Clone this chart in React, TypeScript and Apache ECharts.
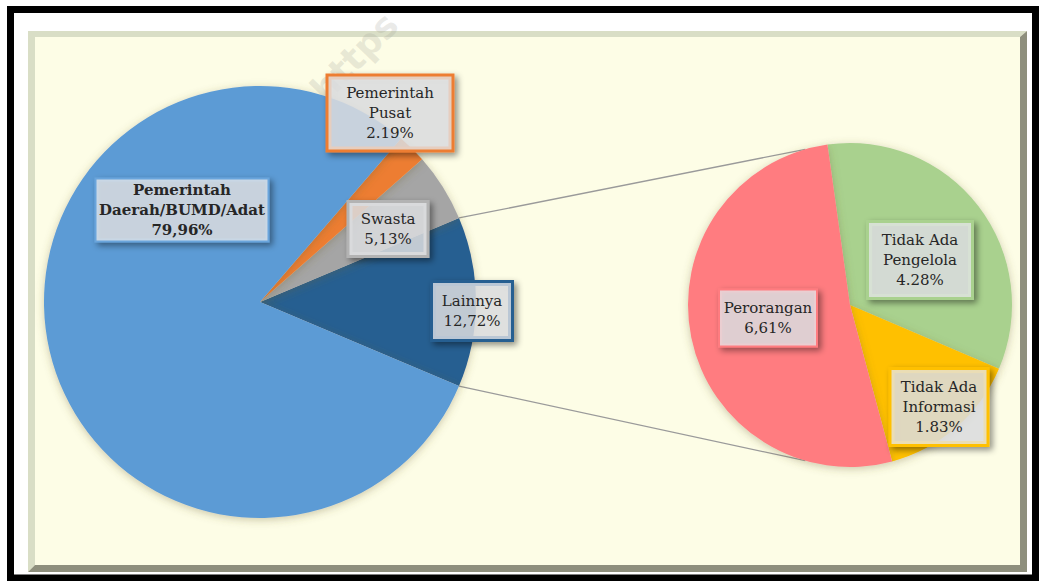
import React, { useEffect, useRef } from "react";
import * as echarts from "echarts";

// ---- data ----
const bigNames = ["Lainnya", "Swasta", "Pemerintah\nPusat", "Pemerintah\nDaerah/BUMD/Adat"];
const bigValues = [12.72, 5.13, 2.19, 79.96];
const bigValueText = ["12,72%", "5,13%", "2.19%", "79,96%"];
const bigColors = ["#255e91", "#a5a5a5", "#ed7d31", "#5b9bd5"];

const smallNames = ["Tidak Ada\nPengelola", "Tidak Ada\nInformasi", "Perorangan"];
const smallValues = [4.28, 1.83, 6.61];
const smallValueText = ["4.28%", "1.83%", "6,61%"];
const smallColors = ["#a9d18e", "#ffc000", "#ff7c80"];

// ---- layout (styles/positions) ----
const BIG_C = [260, 302];
const BIG_R = 216;
const SMALL_C = [850, 305];
const SMALL_R = 162;
const BIG_START = -22.9;
const SMALL_START = 98;

// label boxes: [cx, cy, w, h, borderWidth, borderColor, bold]
const bigBoxes: any[] = [
  [472, 311, 84, 62, 3, "#255e91", false],
  [388, 229, 83, 58, 3, "#b3b3b3", false],
  [390, 113, 129, 79, 3, "#ed7d31", false],
  [182, 210, 175, 65, 2, "#6aa5dc", true],
];
const smallBoxes: any[] = [
  [920, 260, 108, 80, 3, "#a9d18e", false],
  [939, 407, 101, 80, 3, "#ffc000", false],
  [768, 318, 100, 59, 2, "#ff7c80", false],
];

function makeData(names: string[], values: number[], texts: string[], colors: string[], boxes: any[]) {
  return names.map((n, i) => {
    const b = boxes[i];
    const lines = n.split("\n").length + 1;
    const lh = 20;
    const bw = b[4];
    const pv = Math.max(0, (b[3] - 2 * bw - lines * lh) / 2);
    return {
      name: n,
      value: values[i],
      itemStyle: { color: colors[i] },
      label: {
        formatter: n + "\n" + texts[i],
        width: b[2] - 2 * bw,
        padding: [pv, 0, pv, 0],
        borderColor: b[5],
        borderWidth: bw,
        fontWeight: b[6] ? "bold" : "normal",
      },
    };
  });
}

const labelBase = {
  show: true,
  position: "inside",
  fontFamily: "DejaVu Serif",
  fontSize: 15,
  lineHeight: 20,
  color: "#262626",
  align: "center",
  overflow: "none",
  backgroundColor: "rgba(228,230,232,0.78)",
  shadowColor: "rgba(0,0,0,0.45)",
  shadowBlur: 6,
  shadowOffsetX: 3,
  shadowOffsetY: 3,
};

function pt(c: number[], r: number, deg: number) {
  const a = (deg * Math.PI) / 180;
  return [c[0] + r * Math.cos(a), c[1] - r * Math.sin(a)];
}

export default function App() {
  const ref = useRef<HTMLDivElement>(null);
  useEffect(() => {
    if (!ref.current) return;
    const chart = echarts.init(ref.current, undefined, { renderer: "svg" });

    const lainnyaSpan = (bigValues[0] / bigValues.reduce((a, b) => a + b, 0)) * 360;
    const p1 = pt(BIG_C, BIG_R, BIG_START + lainnyaSpan);
    const p2 = pt(BIG_C, BIG_R, BIG_START);
    const q1 = pt(SMALL_C, SMALL_R, 106);
    const q2 = pt(SMALL_C, SMALL_R, -106);

    const option: any = {
      animation: false,
      graphic: [
        {
          type: "rect",
          z: -10,
          shape: { x: 10.5, y: 9.5, width: 1025, height: 568.5 },
          style: { fill: "#ffffff", stroke: "#000000", lineWidth: 7 },
        },
        {
          type: "rect",
          z: -9,
          shape: { x: 28, y: 31, width: 999, height: 541 },
          style: { fill: "#fdfde6" },
        },
        {
          type: "polygon",
          z: -8,
          shape: { points: [[28, 31], [1027, 31], [1020, 37], [35, 37], [35, 565], [28, 572]] },
          style: { fill: "#d9dec6" },
        },
        {
          type: "polygon",
          z: -8,
          shape: { points: [[1027, 31], [1027, 572], [28, 572], [35, 565], [1020, 565], [1020, 37]] },
          style: { fill: "#8e8f7d" },
        },
        {
          type: "text",
          z: -7,
          x: 330,
          y: 108,
          rotation: (46 * Math.PI) / 180,
          style: {
            text: "https",
            fontSize: 36,
            fontWeight: "bold",
            fontFamily: "DejaVu Sans",
            align: "left",
            verticalAlign: "bottom",
            fill: "rgba(160,160,150,0.22)",
          },
        },
        {
          type: "line",
          z: 1,
          shape: { x1: p1[0], y1: p1[1], x2: q1[0], y2: q1[1] },
          style: { stroke: "#9a9a9a", lineWidth: 1.3 },
        },
        {
          type: "line",
          z: 1,
          shape: { x1: p2[0], y1: p2[1], x2: q2[0], y2: q2[1] },
          style: { stroke: "#9a9a9a", lineWidth: 1.3 },
        },
      ],
      series: [
        {
          type: "pie",
          center: BIG_C,
          radius: BIG_R,
          startAngle: BIG_START,
          clockwise: false,
          z: 2,
          avoidLabelOverlap: false,
          itemStyle: {
            shadowColor: "rgba(110,100,50,0.35)",
            shadowBlur: 8,
            shadowOffsetY: 2,
          },
          emphasis: { disabled: true },
          labelLine: { show: false },
          label: labelBase,
          labelLayout: (p: any) => {
            const b = bigBoxes[p.dataIndex];
            return { x: b[0], y: b[1], align: "center", verticalAlign: "middle" };
          },
          data: makeData(bigNames, bigValues, bigValueText, bigColors, bigBoxes),
        },
        {
          type: "pie",
          center: SMALL_C,
          radius: SMALL_R,
          startAngle: SMALL_START,
          clockwise: true,
          z: 2,
          avoidLabelOverlap: false,
          itemStyle: {
            shadowColor: "rgba(110,100,50,0.35)",
            shadowBlur: 8,
            shadowOffsetY: 2,
          },
          emphasis: { disabled: true },
          labelLine: { show: false },
          label: labelBase,
          labelLayout: (p: any) => {
            const b = smallBoxes[p.dataIndex];
            return { x: b[0], y: b[1], align: "center", verticalAlign: "middle" };
          },
          data: makeData(smallNames, smallValues, smallValueText, smallColors, smallBoxes),
        },
      ],
    };
    chart.setOption(option);
    return () => chart.dispose();
  }, []);
  return (
    <div
      ref={ref}
      style={{ position: "fixed", left: 0, top: 0, width: 1039, height: 581, background: "#ffffff" }}
    />
  );
}
